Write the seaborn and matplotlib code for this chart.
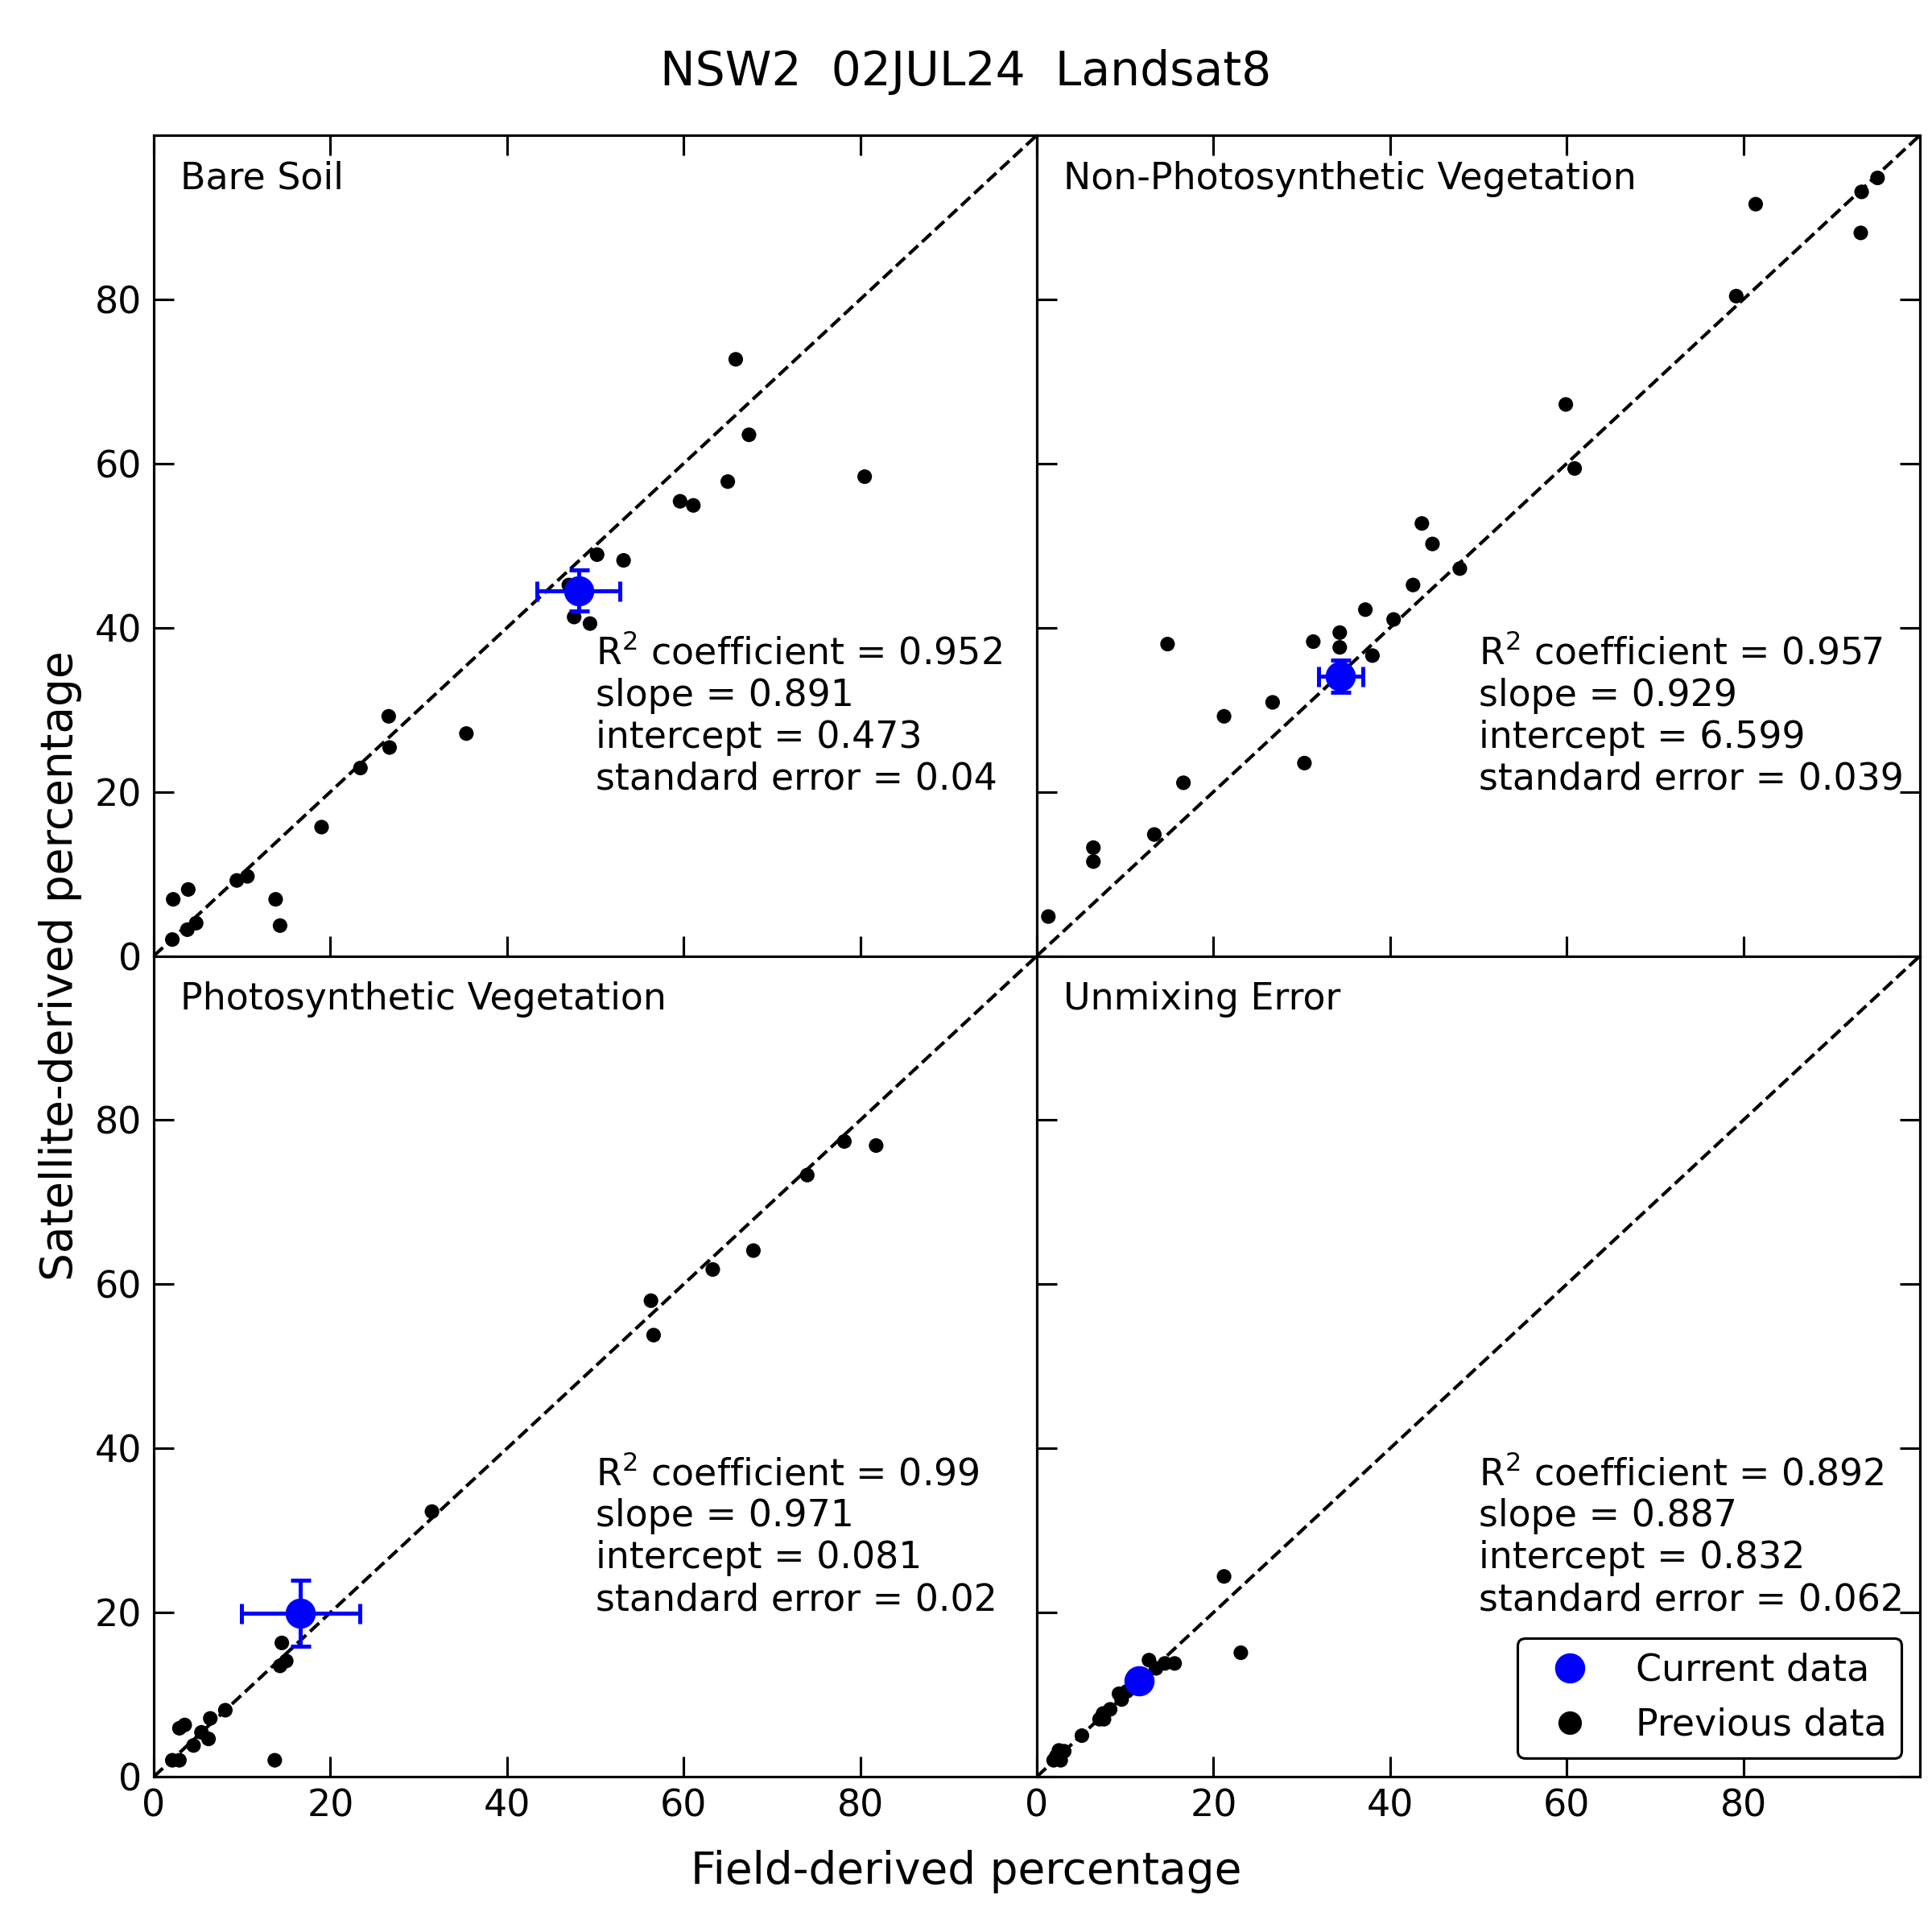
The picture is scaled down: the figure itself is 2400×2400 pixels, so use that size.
import numpy as np
import pandas as pd
import matplotlib
matplotlib.use("Agg")
import matplotlib.pyplot as plt
from matplotlib.lines import Line2D
import seaborn as sns

# ---------------- data ----------------
panel_titles = ["Bare Soil", "Non-Photosynthetic Vegetation",
                "Photosynthetic Vegetation", "Unmixing Error"]

bs_x = [65.9, 67.4, 80.5, 65.0, 59.6, 61.1, 50.2, 53.2, 47.0, 47.6, 49.4, 26.6, 26.7,
        35.4, 23.4, 19.0, 9.4, 10.6, 13.8, 14.3, 2.2, 3.9, 3.8, 4.8, 2.1]
bs_y = [72.7, 63.5, 58.4, 57.8, 55.4, 54.9, 48.9, 48.2, 45.2, 41.3, 40.5, 29.2, 25.4,
        27.1, 22.9, 15.7, 9.2, 9.7, 6.9, 3.7, 6.9, 8.1, 3.2, 4.0, 2.0]

npv_x = [95.2, 93.4, 81.4, 93.3, 79.2, 59.9, 60.9, 43.6, 44.8, 47.9, 42.6, 37.2, 40.4,
         34.3, 31.3, 34.3, 38.0, 14.8, 26.7, 21.2, 30.3, 16.6, 13.3, 6.4, 6.4, 1.3]
npv_y = [94.8, 93.1, 91.6, 88.1, 80.4, 67.2, 59.4, 52.7, 50.2, 47.2, 45.2, 42.2, 41.0,
         39.4, 38.3, 37.6, 36.6, 38.0, 30.9, 29.2, 23.5, 21.1, 14.8, 13.2, 11.5, 4.8]

pv_x = [78.2, 81.8, 74.0, 67.9, 63.3, 56.3, 56.6, 31.5, 14.5, 14.3, 15.0, 8.1, 6.4,
        2.9, 3.5, 5.4, 6.2, 4.5, 13.7, 2.1, 2.9]
pv_y = [77.4, 76.9, 73.3, 64.1, 61.8, 58.0, 53.8, 32.3, 16.3, 13.5, 14.1, 8.1, 7.1,
        5.9, 6.3, 5.4, 4.6, 3.8, 2.0, 2.0, 2.0]

ue_x = [21.2, 23.1, 12.7, 13.5, 14.5, 15.6, 10.2, 9.3, 9.6, 8.3, 7.5, 7.6, 7.1, 5.1,
        2.5, 3.1, 2.2, 2.7, 1.9]
ue_y = [24.4, 15.1, 14.2, 13.2, 13.8, 13.8, 10.4, 10.1, 9.4, 8.2, 7.7, 7.0, 7.0, 5.0,
        3.2, 3.1, 2.5, 2.0, 2.0]

cur_x = [48.1, 34.4, 16.6, 11.6]
cur_y = [44.5, 34.1, 19.9, 11.7]
cur_xerr = [4.7, 2.5, 6.7, 0.0]
cur_yerr = [2.5, 1.95, 4.0, 0.0]

r2 = ["0.952", "0.957", "0.99", "0.892"]
slopes = ["0.891", "0.929", "0.971", "0.887"]
intercepts = ["0.473", "6.599", "0.081", "0.832"]
std_errs = ["0.04", "0.039", "0.02", "0.062"]

ticks = [0, 20, 40, 60, 80]
title = "NSW2  02JUL24  Landsat8"
xlabel = "Field-derived percentage"
ylabel = "Satellite-derived percentage"

prev_x = [bs_x, npv_x, pv_x, ue_x]
prev_y = [bs_y, npv_y, pv_y, ue_y]

# ---------------- style ----------------
sns.set_theme(style="white")
plt.rcParams["font.family"] = ["DejaVu Sans"]
plt.rcParams["mathtext.fontset"] = "dejavusans"
plt.rcParams["text.color"] = "black"
plt.rcParams["axes.labelcolor"] = "black"
plt.rcParams["xtick.color"] = "black"
plt.rcParams["ytick.color"] = "black"
FS = 11

fig, axes = plt.subplots(2, 2, figsize=(8, 8), dpi=300)
fig.subplots_adjust(left=0.0796, right=0.99375, top=0.93, bottom=0.0804,
                     hspace=0, wspace=0)

for i, ax in enumerate(axes.flat):
    df = pd.DataFrame({"x": prev_x[i], "y": prev_y[i]})
    ax.plot([0, 100], [0, 100], ls="--", color="black", lw=1.0, zorder=1)
    sns.scatterplot(data=df, x="x", y="y", ax=ax, color="black", s=19,
                    edgecolor="none", linewidth=0, zorder=2, legend=False)
    ax.errorbar([cur_x[i]], [cur_y[i]], xerr=[cur_xerr[i]], yerr=[cur_yerr[i]],
                fmt="o", color="blue", ms=8, capsize=3, elinewidth=1.2,
                capthick=1.2, zorder=3)
    ax.set_xlim(0, 100)
    ax.set_ylim(0, 100)
    ax.set_xlabel("")
    ax.set_ylabel("")
    ax.set_xticks(ticks)
    ax.set_yticks(ticks)
    for sp in ax.spines.values():
        sp.set_visible(True)
        sp.set_color("black")
        sp.set_linewidth(0.75)
    row, col = divmod(i, 2)
    ax.tick_params(direction="in", length=6, width=0.75, color="black",
                   labelsize=FS, labelcolor="black",
                   top=(row == 0), bottom=True, left=True, right=(col == 1),
                   labelbottom=(row == 1), labelleft=(col == 0),
                   labeltop=False, labelright=False)
    ax.text(0.03, 0.969, panel_titles[i], transform=ax.transAxes,
            ha="left", va="top", fontsize=FS, color="black")
    stats = (f"R$^2$ coefficient = {r2[i]}\nslope = {slopes[i]}\n"
             f"intercept = {intercepts[i]}\nstandard error = {std_errs[i]}")
    ax.text(0.5, 0.193, stats, transform=ax.transAxes, ha="left", va="bottom",
            fontsize=FS, color="black", linespacing=1.2)

handles = [Line2D([], [], ls="none", marker="o", color="blue", ms=8),
           Line2D([], [], ls="none", marker="o", color="black", ms=6)]
leg = axes[1, 1].legend(handles, ["Current data", "Previous data"],
                        loc="lower right", fontsize=FS, frameon=True,
                        fancybox=True, framealpha=1, edgecolor="black",
                        handletextpad=0.8)
leg.get_frame().set_linewidth(0.75)
for t in leg.get_texts():
    t.set_color("black")

fig.text(0.5, 0.956, title, ha="center", va="baseline", fontsize=14.0,
         color="black")
fig.text(0.5, 0.025, xlabel, ha="center", va="baseline", fontsize=13.2,
         color="black")
fig.text(0.0376, 0.5, ylabel, ha="center", va="baseline", rotation=90,
         rotation_mode="anchor", fontsize=13.2, color="black")

fig.savefig("out.png", dpi=300, facecolor="white")
